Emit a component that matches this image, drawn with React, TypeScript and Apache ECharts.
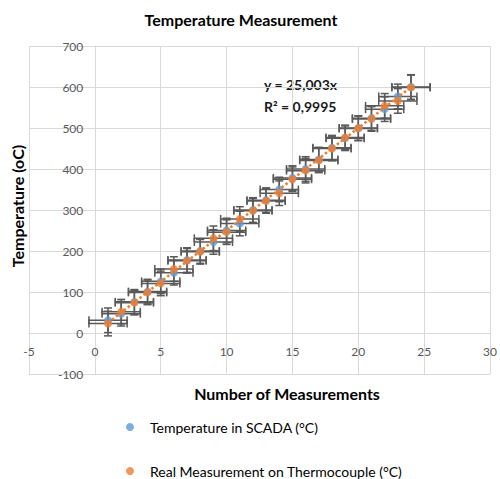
import React, { useEffect, useRef } from "react";
import * as echarts from "echarts";

const measurementNumbers = [1, 2, 3, 4, 5, 6, 7, 8, 9, 10, 11, 12, 13, 14, 15, 16, 17, 18, 19, 20, 21, 22, 23, 24];
const scadaTemps = [31, 47, 76, 101, 126, 147, 178, 200, 222, 250, 267, 300, 324, 350, 378, 400, 423, 452, 475, 500, 524, 546, 577, 600];
const thermocoupleTemps = [23, 52, 74, 99, 121, 156, 176, 198, 231, 246, 278, 298, 322, 341, 375, 396, 421, 450, 477, 499, 522, 554, 566, 599];
const xErrorAmount = 1.45;
const yErrorAmount = 30;
const trendSlope = 25.003;
const trendR2 = "0,9995";
const seriesNames = ["Temperature in SCADA (°C)", "Real Measurement on Thermocouple (°C)"];
const xRange = [-5, 30];
const yRange = [-100, 700];

const FONT = "Lato, 'Open Sans', sans-serif";

const W = 500;
const H = 479;
const GRID = { left: 29, right: 7, top: 46, bottom: 105 };

export default function App() {
  const ref = useRef<HTMLDivElement>(null);
  useEffect(() => {
    if (!ref.current) return;
    const chart = echarts.init(ref.current, null, { renderer: "svg" });
    const scadaData = measurementNumbers.map((x, i) => [x, scadaTemps[i]]);
    const thermoData = measurementNumbers.map((x, i) => [x, thermocoupleTemps[i]]);
    const errData = [...scadaData, ...thermoData].map((d) => [d[0], d[1], xErrorAmount, yErrorAmount]);
    const xFirst = measurementNumbers[0];
    const xLast = measurementNumbers[measurementNumbers.length - 1];
    const trendData = [
      [xFirst, trendSlope * xFirst],
      [xLast, trendSlope * xLast],
    ];
    // axes cross at zero (Excel style): shift axes inward to the zero of the other axis
    const gridW = W - GRID.left - GRID.right;
    const gridH = H - GRID.top - GRID.bottom;
    const xAxisOffset = -((0 - yRange[0]) / (yRange[1] - yRange[0])) * gridH;
    const yAxisOffset = -((0 - xRange[0]) / (xRange[1] - xRange[0])) * gridW;
    const axisLabel = { color: "#595959", fontSize: 12, fontFamily: FONT };
    const legendText = { fontSize: 14, lineHeight: 14, color: "#000", fontFamily: FONT, padding: [0, 0, 0, 11] };
    const option: any = {
      animation: false,
      backgroundColor: "#ffffff",
      grid: { ...GRID, containLabel: false },
      xAxis: {
        type: "value",
        min: xRange[0],
        max: xRange[1],
        interval: 5,
        offset: xAxisOffset,
        axisLine: { show: true, onZero: false, lineStyle: { color: "#d9d9d9" } },
        axisTick: { show: false },
        axisLabel: { ...axisLabel, margin: 12 },
        splitLine: { show: true, lineStyle: { color: "#d9d9d9", width: 1 } },
      },
      yAxis: {
        type: "value",
        min: yRange[0],
        max: yRange[1],
        interval: 100,
        offset: yAxisOffset,
        axisLine: { show: true, onZero: false, lineStyle: { color: "#d9d9d9" } },
        axisTick: { show: false },
        axisLabel: { ...axisLabel, margin: 12 },
        splitLine: { show: true, lineStyle: { color: "#d9d9d9", width: 1 } },
      },
      legend: [
        {
          orient: "vertical",
          left: 126,
          top: 420,
          padding: 0,
          itemWidth: 8,
          itemHeight: 8,
          icon: "circle",
          data: [seriesNames[0]],
          textStyle: legendText,
        },
        {
          orient: "vertical",
          left: 126,
          top: 464,
          padding: 0,
          itemWidth: 8,
          itemHeight: 8,
          icon: "circle",
          data: [seriesNames[1]],
          textStyle: legendText,
        },
      ],
      graphic: [
        {
          type: "text",
          x: 241,
          y: 19,
          style: { text: "Temperature Measurement", fontSize: 16, fontWeight: "bold", fontFamily: FONT, fill: "#000", textAlign: "center", textVerticalAlign: "middle" },
        },
        {
          type: "text",
          x: 287,
          y: 393,
          style: { text: "Number of Measurements", fontSize: 16, fontWeight: "bold", fontFamily: FONT, fill: "#000", textAlign: "center", textVerticalAlign: "middle" },
        },
        {
          type: "text",
          x: 17,
          y: 206,
          rotation: Math.PI / 2,
          style: { text: "Temperature (oC)", fontSize: 16, fontWeight: "bold", fontFamily: FONT, fill: "#000", textAlign: "center", textVerticalAlign: "middle" },
        },
        {
          type: "text",
          x: 264,
          y: 84,
          style: { text: "y = " + String(trendSlope).replace(".", ",") + "x", fontSize: 14, fontWeight: "bold", fontFamily: FONT, fill: "#1a1a1a", textAlign: "left", textVerticalAlign: "middle" },
        },
        {
          type: "text",
          x: 264,
          y: 106,
          style: { text: "R² = " + trendR2, fontSize: 14, fontWeight: "bold", fontFamily: FONT, fill: "#1a1a1a", textAlign: "left", textVerticalAlign: "middle" },
        },
      ],
      series: [
        {
          type: "custom",
          name: "errors",
          z: 2,
          data: errData,
          encode: { x: 0, y: 1 },
          renderItem: (params: any, api: any) => {
            const x = api.value(0);
            const y = api.value(1);
            const ex = api.value(2);
            const ey = api.value(3);
            const l = api.coord([x - ex, y]);
            const r = api.coord([x + ex, y]);
            const t = api.coord([x, y + ey]);
            const b = api.coord([x, y - ey]);
            const cap = 4;
            const style = { stroke: "#595959", lineWidth: 1.5, fill: "none" };
            const line = (x1: number, y1: number, x2: number, y2: number) => ({
              type: "line",
              shape: { x1, y1, x2, y2 },
              style,
            });
            return {
              type: "group",
              children: [
                line(l[0], l[1], r[0], r[1]),
                line(l[0], l[1] - cap, l[0], l[1] + cap),
                line(r[0], r[1] - cap, r[0], r[1] + cap),
                line(t[0], t[1], b[0], b[1]),
                line(t[0] - cap, t[1], t[0] + cap, t[1]),
                line(b[0] - cap, b[1], b[0] + cap, b[1]),
              ],
            };
          },
        },
        {
          type: "scatter",
          name: seriesNames[0],
          z: 3,
          data: scadaData,
          symbol: "circle",
          symbolSize: 8,
          itemStyle: { color: "#5B9BD5" },
        },
        {
          type: "scatter",
          name: seriesNames[1],
          z: 4,
          data: thermoData,
          symbol: "circle",
          symbolSize: 8,
          itemStyle: { color: "#ED7D31" },
        },
        {
          type: "line",
          name: "trend",
          z: 5,
          data: trendData,
          symbol: "none",
          lineStyle: { color: "#ED7D31", type: "dotted", width: 2.5 },
        },
      ],
    };
    chart.setOption(option);
    return () => chart.dispose();
  }, []);
  return <div ref={ref} style={{ width: W, height: H, position: "absolute", left: 0, top: 0 }} />;
}
